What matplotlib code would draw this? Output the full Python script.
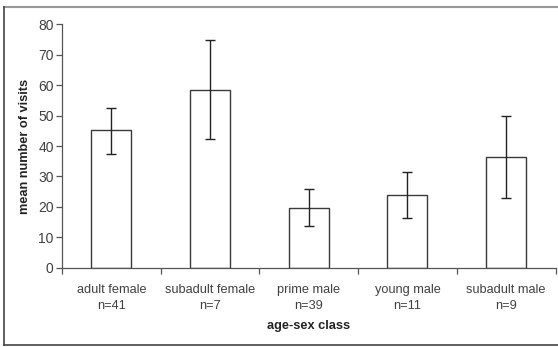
import matplotlib
matplotlib.use("Agg")
import matplotlib.pyplot as plt
from matplotlib.lines import Line2D

categories = ["adult female\nn=41", "subadult female\nn=7", "prime male\nn=39",
              "young male\nn=11", "subadult male\nn=9"]
means = [45.1, 58.4, 19.7, 23.8, 36.4]
err_upper = [52.6, 74.8, 25.8, 31.6, 49.7]
err_lower = [37.3, 42.3, 13.6, 16.3, 22.8]
yticks = [0, 10, 20, 30, 40, 50, 60, 70, 80]

plt.rcParams['font.family'] = ['Liberation Sans', 'DejaVu Sans']

W, H = 558, 347
AX_L, AX_R, AX_B, AX_T = 62, 555.5, 267.7, 24.3
fig = plt.figure(figsize=(W / 100, H / 100), dpi=100)
ax = fig.add_axes([AX_L / W, 1 - AX_B / H, (AX_R - AX_L) / W, (AX_B - AX_T) / H])

x = list(range(len(categories)))
yerr = [[m - l for m, l in zip(means, err_lower)], [u - m for m, u in zip(means, err_upper)]]
ax.bar(x, means, width=0.405, color='white', edgecolor='#3a3a3a', linewidth=1.0, zorder=2)
ax.errorbar(x, means, yerr=yerr, fmt='none', ecolor='#222222', elinewidth=1.0,
            capsize=3.5, capthick=1.0, zorder=3)

ax.set_xlim(-0.5, len(categories) - 0.5)
ax.set_ylim(0, 80)
ax.set_yticks(yticks)
ax.set_xticks([i + 0.5 for i in range(-1, len(categories))], minor=False)
ax.set_xticklabels([])
ax.set_xticks(x, minor=True)
ax.set_xticklabels(categories, minor=True, fontsize=9.2, color='#404040', linespacing=1.45)
ax.tick_params(axis='x', which='minor', length=0, pad=12)
ax.tick_params(axis='x', which='major', length=4, color='#555555', width=0.9)
ax.tick_params(axis='y', length=4, color='#555555', width=0.9, labelsize=10,
               labelcolor='#404040', pad=2)
for s in ['top', 'right']:
    ax.spines[s].set_visible(False)
for s in ['left', 'bottom']:
    ax.spines[s].set_color('#555555')
    ax.spines[s].set_linewidth(0.9)

ax.set_ylabel('mean number of visits', fontsize=9.2, fontweight='bold', color='#222222')
ax.yaxis.set_label_coords((25 - AX_L) / (AX_R - AX_L), 0.5)
ax.set_xlabel('age-sex class', fontsize=9.2, fontweight='bold', color='#222222')
ax.xaxis.set_label_coords(0.5, (AX_B - 326) / (AX_B - AX_T))
ax.xaxis.label.set_verticalalignment('center')
ax.yaxis.label.set_verticalalignment('center')

# outer frame
fig.add_artist(Line2D([4 / W, 1.0], [1 - 6.5 / H, 1 - 6.5 / H], transform=fig.transFigure,
                      color='#999999', linewidth=1.5))
fig.add_artist(Line2D([4 / W, 4 / W], [1 - 6.5 / H, 1 - 345 / H], transform=fig.transFigure,
                      color='#444444', linewidth=1.2))
fig.add_artist(Line2D([4 / W, 1.0], [1 - 345 / H, 1 - 345 / H], transform=fig.transFigure,
                      color='#444444', linewidth=1.2))

fig.savefig('out.png', dpi=100)
